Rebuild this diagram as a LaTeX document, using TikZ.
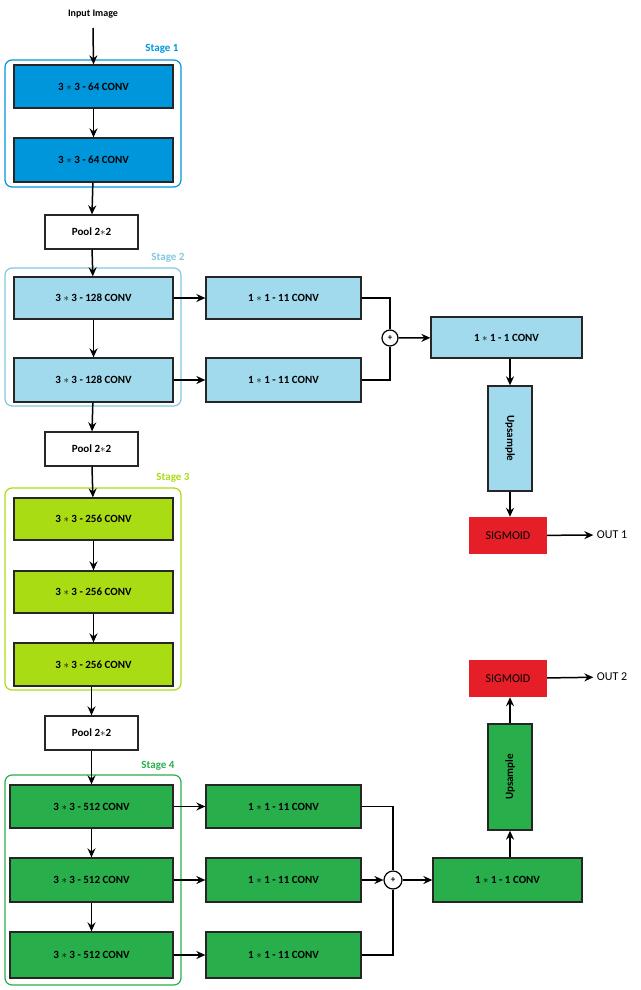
\documentclass[tikz,border=0pt]{standalone}
\usepackage{fontspec}
\setmainfont{Carlito}
\usetikzlibrary{arrows.meta}
\definecolor{c1}{RGB}{0,150,220}
\definecolor{c2}{RGB}{160,218,236}
\definecolor{c2l}{RGB}{130,200,225}
\definecolor{c3}{RGB}{170,220,20}
\definecolor{c4}{RGB}{40,175,75}
\definecolor{red}{RGB}{230,30,40}
\begin{document}
\begin{tikzpicture}[x=1pt,y=-1pt,
  box/.style={draw=black!85,line width=1.3pt,inner sep=0pt,font=\bfseries\fontsize{11}{13}\selectfont},
  stage/.style={rounded corners=7pt,line width=1.2pt},
  slab/.style={font=\bfseries\fontsize{11}{13}\selectfont},
  arr/.style={line width=1.5pt,-{Stealth[length=9pt,width=8pt,inset=3pt]}},
  ln/.style={line width=1.5pt}]
\useasboundingbox (0,0) rectangle (640,990);
\newcommand{\bx}[6]{\node[box,fill=#6,minimum width=#4-#2,minimum height=#5-#3] (#1) at ({(#2+#4)/2},{(#3+#5)/2}) {};}
% stages
\draw[stage,c1] (5,60) rectangle (181,187);
\node[slab,text=c1] (s1) at (162,49) {Stage 1};
\draw[stage,c2l] (5,268) rectangle (181,406);
\node[slab,text=c2l] (s2) at (168,258) {Stage 2};
\draw[stage,c3] (5,488) rectangle (181,690);
\node[slab,text=c3] (s3) at (173,478) {Stage 3};
\draw[stage,c4] (5,775) rectangle (181,985);
\node[slab,text=c4] (s4) at (158,766) {Stage 4};
\node[font=\bfseries\fontsize{10}{12}\selectfont] (in) at (93,14) {Input Image};
% boxes
\node[box,fill=c1,minimum width=159pt,minimum height=43pt] (a1) at (93.5,86.5) {3 $*$ 3 - 64 CONV};
\node[box,fill=c1,minimum width=159pt,minimum height=44pt] (a2) at (93.5,160) {3 $*$ 3 - 64 CONV};
\node[box,fill=white,minimum width=93pt,minimum height=34pt] (p1) at (91.5,232) {Pool 2$*$2};
\node[box,fill=c2,minimum width=159pt,minimum height=42pt] (b1) at (93.5,298) {3 $*$ 3 - 128 CONV};
\node[box,fill=c2,minimum width=159pt,minimum height=44pt] (b2) at (93.5,380) {3 $*$ 3 - 128 CONV};
\node[box,fill=c2,minimum width=155pt,minimum height=42pt] (bs1) at (283.5,298) {1 $*$ 1 - 11 CONV};
\node[box,fill=c2,minimum width=155pt,minimum height=44pt] (bs2) at (283.5,380) {1 $*$ 1 - 11 CONV};
\node[draw,circle,line width=1.2pt,minimum size=16pt,inner sep=0pt,fill=white,font=\bfseries\small] (pl1) at (390,338) {+};
\node[box,fill=c2,minimum width=151pt,minimum height=41pt] (bc) at (506.5,337.5) {1 $*$ 1 - 1 CONV};
\node[box,fill=c2,minimum width=44pt,minimum height=105pt] (u1) at (510,438.5) {\rotatebox{-90}{Upsample}};
\node[fill=red,minimum width=78pt,minimum height=37pt,inner sep=0pt,font=\fontsize{12}{14}\selectfont] (sg1) at (508,535.5) {SIGMOID};
\node[font=\fontsize{12}{14}\selectfont] (o1) at (612,535) {OUT 1};
\node[box,fill=white,minimum width=93pt,minimum height=34pt] (p2) at (91.5,449) {Pool 2$*$2};
\node[box,fill=c3,minimum width=159pt,minimum height=42pt] (c1n) at (93.5,519) {3 $*$ 3 - 256 CONV};
\node[box,fill=c3,minimum width=159pt,minimum height=42pt] (c2n) at (93.5,592) {3 $*$ 3 - 256 CONV};
\node[box,fill=c3,minimum width=159pt,minimum height=43pt] (c3n) at (93.5,664.5) {3 $*$ 3 - 256 CONV};
\node[box,fill=white,minimum width=93pt,minimum height=34pt] (p3) at (91.5,733) {Pool 2$*$2};
\node[box,fill=c4,minimum width=163pt,minimum height=43pt] (d1) at (91.5,806.5) {3 $*$ 3 - 512 CONV};
\node[box,fill=c4,minimum width=163pt,minimum height=44pt] (d2) at (91.5,880) {3 $*$ 3 - 512 CONV};
\node[box,fill=c4,minimum width=163pt,minimum height=46pt] (d3) at (91.5,955) {3 $*$ 3 - 512 CONV};
\node[box,fill=c4,minimum width=155pt,minimum height=43pt] (ds1) at (283.5,806.5) {1 $*$ 1 - 11 CONV};
\node[box,fill=c4,minimum width=155pt,minimum height=44pt] (ds2) at (283.5,880) {1 $*$ 1 - 11 CONV};
\node[box,fill=c4,minimum width=155pt,minimum height=46pt] (ds3) at (283.5,955) {1 $*$ 1 - 11 CONV};
\node[draw,circle,line width=1.2pt,minimum size=18pt,inner sep=0pt,fill=white,font=\bfseries\small] (pl2) at (393,880) {+};
\node[box,fill=c4,minimum width=149pt,minimum height=44pt] (dc) at (507.5,880) {1 $*$ 1 - 1 CONV};
\node[box,fill=c4,minimum width=44pt,minimum height=106pt] (u2) at (510,777) {\rotatebox{90}{Upsample}};
\node[fill=red,minimum width=78pt,minimum height=37pt,inner sep=0pt,font=\fontsize{12}{14}\selectfont] (sg2) at (508,678.5) {SIGMOID};
\node[font=\fontsize{12}{14}\selectfont] (o2) at (612,677) {OUT 2};
% arrows
\coordinate (inb) at (93,28);
\draw[arr] (inb) -- (a1.north);
\draw[arr] (a1) -- (a2);
\draw[arr] (a2) -- (p1);
\draw[arr] (p1) -- (b1);
\draw[arr] (b1) -- (b2);
\draw[arr] (b2) -- (p2);
\draw[arr] (p2) -- (c1n);
\draw[arr] (c1n) -- (c2n);
\draw[arr] (c2n) -- (c3n);
\draw[arr] (c3n.south -| p3) -- (p3);
\draw[arr] (p3) -- (p3 |- d1.north);
\draw[arr] (d1) -- (d2);
\draw[arr] (d2) -- (d3);
\draw[arr] (b1) -- (bs1);
\draw[arr] (b2) -- (bs2);
\draw[arr] (d1) -- (ds1);
\draw[arr] (d2) -- (ds2);
\draw[arr] (d3) -- (ds3);
\draw[ln] (bs1.east) -| (pl1.north);
\draw[ln] (bs2.east) -| (pl1.south);
\draw[arr] (pl1) -- (bc);
\draw[arr] (bc.south -| u1) -- (u1);
\draw[arr] (u1) -- (u1 |- sg1.north);
\draw[arr] (sg1) -- (o1);
\draw[ln] (ds1.east) -| (pl2.north);
\draw[ln] (ds3.east) -| (pl2.south);
\draw[arr] (ds2) -- (pl2);
\draw[arr] (pl2) -- (dc);
\draw[arr] (dc.north -| u2) -- (u2);
\draw[arr] (u2) -- (u2 |- sg2.south);
\draw[arr] (sg2) -- (o2);
\end{tikzpicture}
\end{document}
